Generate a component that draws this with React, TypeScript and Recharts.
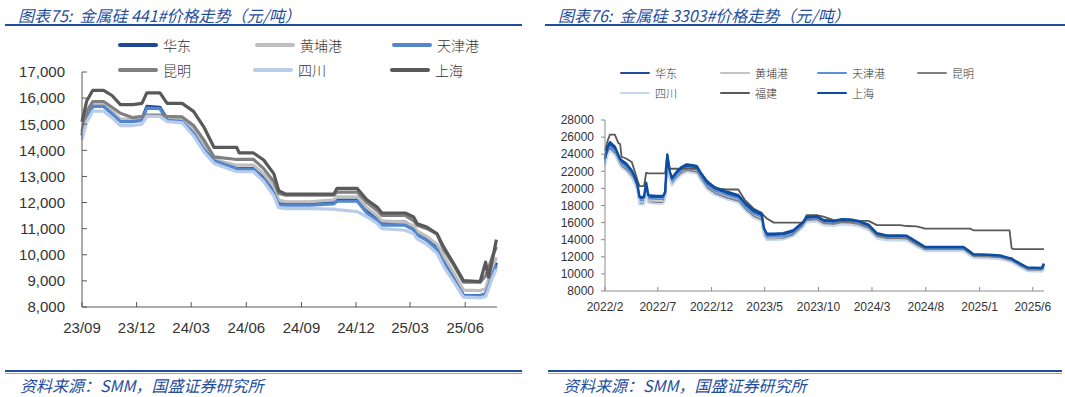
import React from "react";
import { LineChart, Line, XAxis, YAxis } from "recharts";

// ---------- 图表75: 金属硅 441# ----------
const leftDates = [
  "2023-09-01", "2023-09-09", "2023-09-19", "2023-10-07", "2023-10-21", "2023-11-04", "2023-11-25", "2023-12-10", "2023-12-18", "2024-01-09",
  "2024-01-21", "2024-02-15", "2024-03-05", "2024-03-22", "2024-04-08", "2024-05-16", "2024-05-20", "2024-06-13", "2024-06-30", "2024-07-17",
  "2024-07-25", "2024-08-06", "2024-09-15", "2024-10-25", "2024-10-30", "2024-12-03", "2024-12-19", "2025-01-05", "2025-01-13", "2025-02-21",
  "2025-03-07", "2025-03-13", "2025-03-29", "2025-04-15", "2025-04-26", "2025-05-13", "2025-05-29", "2025-06-26", "2025-07-05", "2025-07-10",
  "2025-07-16", "2025-07-23",
];
const leftEnd = "2025-07-24";
const leftTickLabels = ["23/09", "23/12", "24/03", "24/06", "24/09", "24/12", "25/03", "25/06"];
const leftYTicks = [8000, 9000, 10000, 11000, 12000, 13000, 14000, 15000, 16000, 17000];

const huadong441 = [14600, 15300, 15700, 15700, 15450, 15150, 15150, 15200, 15680, 15650, 15200, 15150, 14700, 14100, 13650, 13300, 13300, 13300, 12950, 12400, 11950, 11940, 11940, 12000, 12090, 12090, 11700, 11450, 11250, 11250, 11050, 10850, 10650, 10300, 9800, 9150, 8450, 8440, 8500, 8900, 9300, 9700];
const huangpu441 = [14700, 15400, 15750, 15750, 15500, 15200, 15200, 15200, 15300, 15300, 15250, 15200, 14800, 14200, 13650, 13430, 13430, 13430, 13100, 12600, 12100, 12030, 12030, 12100, 12220, 12220, 11800, 11500, 11300, 11250, 11100, 10900, 10700, 10400, 9950, 9300, 8650, 8630, 8700, 9100, 9500, 9900];
const tianjin441 = [14550, 15250, 15680, 15680, 15400, 15100, 15100, 15150, 15620, 15600, 15150, 15100, 14650, 14050, 13600, 13300, 13280, 13280, 12900, 12350, 11900, 11900, 11900, 11950, 12050, 12050, 11600, 11320, 11130, 11130, 10950, 10750, 10550, 10200, 9700, 9050, 8440, 8430, 8500, 8800, 9200, 9600];
const kunming441 = [14720, 15500, 15870, 15870, 15650, 15420, 15250, 15300, 15350, 15350, 15300, 15280, 14950, 14400, 13750, 13650, 13650, 13650, 13300, 12800, 12350, 12280, 12280, 12280, 12400, 12400, 12000, 11700, 11510, 11510, 11300, 11130, 11000, 10800, 10200, 9600, 8950, 8950, 9200, 9500, 9910, 10300];
const sichuan441 = [14400, 15100, 15500, 15500, 15250, 14950, 14950, 15000, 15300, 15300, 15100, 15050, 14550, 13950, 13500, 13180, 13180, 13180, 12800, 12250, 11800, 11770, 11770, 11750, 11730, 11650, 11450, 11200, 11000, 10940, 10800, 10600, 10400, 10050, 9550, 8950, 8380, 8350, 8400, 8700, 9100, 9450];
const shanghai441 = [15100, 15900, 16300, 16300, 16100, 15750, 15750, 15800, 16200, 16200, 15800, 15800, 15490, 14900, 14115, 14115, 13900, 13900, 13630, 13100, 12450, 12320, 12320, 12320, 12540, 12540, 12110, 11830, 11600, 11600, 11450, 11190, 11060, 10800, 10300, 9650, 9010, 8975, 9720, 9140, 9780, 10580];

// ---------- 图表76: 金属硅 3303# ----------
const rightDates = [
  "2022-02-01", "2022-02-08", "2022-02-15", "2022-03-01", "2022-03-11", "2022-03-16", "2022-03-20", "2022-04-02", "2022-04-18", "2022-04-27",
  "2022-05-04", "2022-05-10", "2022-05-23", "2022-05-29", "2022-06-04", "2022-06-26", "2022-07-17", "2022-07-22", "2022-07-28", "2022-08-04",
  "2022-08-10", "2022-08-24", "2022-09-07", "2022-09-21", "2022-10-09", "2022-10-20", "2022-10-29", "2022-11-17", "2022-12-11", "2023-01-13",
  "2023-02-15", "2023-03-06", "2023-03-30", "2023-04-22", "2023-04-29", "2023-05-07", "2023-05-27", "2023-06-23", "2023-07-22", "2023-08-19",
  "2023-08-28", "2023-09-26", "2023-10-15", "2023-11-13", "2023-12-06", "2023-12-30", "2024-01-22", "2024-02-20", "2024-03-15", "2024-04-12",
  "2024-05-20", "2024-06-08", "2024-07-06", "2024-07-30", "2024-09-18", "2024-11-16", "2024-12-05", "2024-12-14", "2025-01-26", "2025-02-28",
  "2025-03-27", "2025-04-02", "2025-04-07", "2025-04-26", "2025-05-17", "2025-06-27", "2025-07-03",
];
const rightEnd = "2025-07-03";
const rightTickLabels = ["2022/2", "2022/7", "2022/12", "2023/5", "2023/10", "2024/3", "2024/8", "2025/1", "2025/6"];
const rightYTicks = [8000, 10000, 12000, 14000, 16000, 18000, 20000, 22000, 24000, 26000, 28000];

const huadong3303 = [23300, 24500, 25100, 24600, 23700, 23300, 23100, 22700, 21900, 21100, 20300, 18800, 18800, 20400, 19000, 18950, 18950, 19400, 23700, 21800, 21000, 21750, 22300, 22600, 22500, 22400, 21750, 20600, 19900, 19400, 19000, 18100, 17250, 16850, 15100, 14550, 14550, 14600, 14950, 15950, 16500, 16600, 16150, 16050, 16250, 16200, 16050, 15600, 14600, 14350, 14350, 14300, 13600, 13000, 13000, 13000, 12450, 12200, 12150, 12050, 11750, 11700, 11550, 11100, 10650, 10600, 11000];
const huangpu3303 = [23000, 24100, 24700, 24200, 23300, 22900, 22700, 22300, 21500, 20700, 19900, 18400, 18400, 19900, 18600, 18500, 18500, 19000, 23200, 21400, 20600, 21350, 21900, 22200, 22100, 22000, 21350, 20200, 19500, 19000, 18600, 17700, 16850, 16450, 14700, 14200, 14200, 14250, 14600, 15650, 16200, 16300, 15850, 15750, 15950, 15900, 15750, 15300, 14300, 14050, 14050, 14000, 13300, 12800, 12800, 12800, 12250, 12000, 11950, 11850, 11550, 11500, 11350, 10900, 10450, 10400, 10700];
const tianjin3303 = [23200, 24300, 24900, 24400, 23500, 23100, 22900, 22500, 21700, 20900, 20100, 18600, 18600, 20200, 18800, 18750, 18750, 19200, 23500, 21600, 20800, 21550, 22100, 22400, 22300, 22200, 21550, 20400, 19700, 19200, 18800, 17900, 17050, 16650, 14900, 14350, 14350, 14400, 14750, 15800, 16350, 16450, 16000, 15900, 16100, 16050, 15900, 15450, 14450, 14200, 14200, 14150, 13450, 12900, 12900, 12900, 12350, 12100, 12050, 11950, 11650, 11600, 11450, 11000, 10550, 10500, 10900];
const kunming3303 = [22800, 24000, 24600, 24100, 23200, 22800, 22600, 22200, 21300, 20500, 19700, 18200, 18200, 19700, 18400, 18300, 18300, 18800, 23100, 21200, 20400, 21200, 21800, 22100, 22000, 21900, 21200, 20100, 19400, 18900, 18500, 17600, 16750, 16300, 14500, 14000, 14000, 14100, 14600, 15700, 16300, 16400, 15950, 15850, 16050, 16000, 15850, 15400, 14450, 14200, 14200, 14150, 13450, 12850, 12850, 12850, 12300, 12050, 12000, 11900, 11550, 11450, 11300, 10850, 10400, 10350, 10600];
const sichuan3303 = [22600, 23800, 24400, 23900, 23000, 22600, 22400, 22000, 21200, 20400, 19600, 18100, 18100, 19600, 18300, 18200, 18200, 18700, 22900, 21100, 20300, 21050, 21600, 21900, 21800, 21700, 21050, 19900, 19200, 18700, 18300, 17400, 16550, 16150, 14400, 13950, 13950, 14000, 14400, 15450, 16000, 16100, 15650, 15550, 15750, 15700, 15550, 15100, 14100, 13900, 13900, 13850, 13150, 12650, 12650, 12650, 12100, 11850, 11800, 11700, 11400, 11350, 11200, 10750, 10300, 10250, 10500];
const fujian3303 = [24400, 25500, 26300, 26300, 25300, 25200, 23700, 23500, 23100, 21950, 21000, 20270, 20270, 21830, 21750, 21750, 21750, 21750, 24000, 22300, 22300, 22300, 22300, 22350, 22300, 22300, 21900, 20970, 19990, 19870, 19870, 18625, 17650, 17140, 16800, 16480, 16000, 16000, 16000, 16000, 16870, 16870, 16700, 16280, 16200, 16200, 16200, 16200, 15700, 15700, 15700, 15600, 15550, 15300, 15300, 15300, 15300, 15100, 15100, 15100, 15100, 13000, 12900, 12900, 12900, 12900, 12900];
const shanghai3303 = [23500, 24800, 25400, 24870, 23900, 23500, 23300, 22900, 22100, 21300, 20500, 19000, 19000, 20650, 19200, 19100, 19100, 19600, 23900, 22000, 21200, 21950, 22500, 22800, 22700, 22600, 21950, 20800, 20100, 19600, 19200, 18300, 17450, 17060, 15300, 14720, 14700, 14750, 15100, 16100, 16650, 16750, 16300, 16200, 16400, 16350, 16200, 15750, 14750, 14500, 14500, 14450, 13750, 13150, 13150, 13150, 12600, 12300, 12250, 12150, 11850, 11800, 11650, 11200, 10750, 10700, 11200];

const DAY = 86400000;
const dayOf = (d: string, base: string) => Math.round((Date.parse(d) - Date.parse(base)) / DAY);

type Series = { key: string; name: string; values: number[]; color: string; width: number };

const leftSeries: Series[] = [
  { key: "hd", name: "华东", values: huadong441, color: "#1F4796", width: 3.2 },
  { key: "hp", name: "黄埔港", values: huangpu441, color: "#BFBFBF", width: 3.2 },
  { key: "tj", name: "天津港", values: tianjin441, color: "#5486CF", width: 3.2 },
  { key: "km", name: "昆明", values: kunming441, color: "#808080", width: 3.2 },
  { key: "sc", name: "四川", values: sichuan441, color: "#B9CDEA", width: 3.2 },
  { key: "sh", name: "上海", values: shanghai441, color: "#595959", width: 3.2 },
];

const rightSeries: Series[] = [
  { key: "hd", name: "华东", values: huadong3303, color: "#1F4E9C", width: 1.8 },
  { key: "hp", name: "黄埔港", values: huangpu3303, color: "#C3C3C3", width: 1.8 },
  { key: "tj", name: "天津港", values: tianjin3303, color: "#5B8FD8", width: 1.8 },
  { key: "km", name: "昆明", values: kunming3303, color: "#7F7F7F", width: 1.8 },
  { key: "sc", name: "四川", values: sichuan3303, color: "#C5D9F1", width: 1.8 },
  { key: "fj", name: "福建", values: fujian3303, color: "#595959", width: 1.8 },
  { key: "sh", name: "上海", values: shanghai3303, color: "#0B4DA2", width: 2.5 },
];

function buildRows(dates: string[], base: string, series: Series[]) {
  return dates.map((d, i) => {
    const row: Record<string, number> = { t: dayOf(d, base) };
    series.forEach((s) => (row[s.key] = s.values[i]));
    return row;
  });
}

const leftRows = buildRows(leftDates, leftDates[0], leftSeries);
const rightRows = buildRows(rightDates, rightDates[0], rightSeries);

// "23/09" -> 2023-09-01 ; "2022/7" -> 2022-07-01
const leftTicks = leftTickLabels.map((l) => {
  const [y, m] = l.split("/");
  return dayOf(`20${y}-${m}-01`, leftDates[0]);
});
const rightTicks = rightTickLabels.map((l) => {
  const [y, m] = l.split("/");
  return dayOf(`${y}-${m.padStart(2, "0")}-01`, rightDates[0]);
});

const BLUE = "#1F4E9C";
const CJK = "'Noto Sans CJK SC', 'Noto Sans', sans-serif";
const NUM = "'Liberation Sans', Arial, sans-serif";

function LegendItem({ x, y, color, label, lineW, thick, size }: { x: number; y: number; color: string; label: string; lineW: number; thick: number; size: number }) {
  return (
    <div style={{ position: "absolute", left: x, top: y - 10, height: 20, display: "flex", alignItems: "center" }}>
      <div style={{ width: lineW, height: thick, background: color, borderRadius: thick / 2 }} />
      <span style={{ marginLeft: 5, fontSize: size, fontFamily: CJK, color: "#333", fontWeight: 300 }}>{label}</span>
    </div>
  );
}

function Header({ x, w, text }: { x: number; w: number; text: string }) {
  return (
    <>
      <div style={{ position: "absolute", left: x + 13, top: 3, fontSize: 16, fontStyle: "italic", color: BLUE, fontFamily: CJK, whiteSpace: "pre" }}>{text}</div>
      <div style={{ position: "absolute", left: x, top: 24, width: w, height: 2, background: BLUE }} />
    </>
  );
}

function Footer({ x, w }: { x: number; w: number }) {
  return (
    <>
      <div style={{ position: "absolute", left: x, top: 370, width: w, height: 2, background: BLUE }} />
      <div style={{ position: "absolute", left: x, top: 373, width: w, height: 1, background: "#8AA6D6" }} />
      <div style={{ position: "absolute", left: x + 15, top: 373, fontSize: 16, fontStyle: "italic", color: BLUE, fontFamily: CJK, whiteSpace: "nowrap" }}>资料来源：SMM，国盛证券研究所</div>
    </>
  );
}

export default function App() {
  const leftLegendPos = [
    [118, 45], [255, 45], [392, 45],
    [118, 70], [253, 70], [390, 70],
  ];
  const rightLegendPos = [
    [620, 73], [720, 73], [817, 73], [917, 73],
    [620, 93], [720, 93], [817, 93],
  ];
  return (
    <div style={{ position: "absolute", left: 0, top: 0, width: 1065, height: 397, background: "#fff", overflow: "hidden" }}>
      <Header x={5} w={517} text="图表75:  金属硅 441#价格走势（元/吨）" />
      <Header x={545} w={520} text="图表76:  金属硅 3303#价格走势（元/吨）" />

      <div style={{ position: "absolute", left: 0, top: 0 }}>
        <LineChart width={520} height={397} data={leftRows} margin={{ top: 72, right: 23, bottom: 60, left: 12 }}>
          <XAxis
            dataKey="t"
            type="number"
            domain={[0, dayOf(leftEnd, leftDates[0])]}
            ticks={leftTicks}
            tickFormatter={(v: number) => leftTickLabels[leftTicks.indexOf(v)] ?? ""}
            height={30}
            stroke="#595959"
            tickSize={-5}
            tickMargin={20}
            tick={{ fill: "#333", fontSize: 15, fontFamily: NUM }}
            interval={0}
          />
          <YAxis
            domain={[8000, 17000]}
            ticks={leftYTicks}
            width={70}
            stroke="#595959"
            tickSize={-5}
            tickMargin={22}
            tickFormatter={(v: number) => v.toLocaleString("en-US")}
            tick={{ fill: "#333", fontSize: 15, fontFamily: NUM }}
            interval={0}
          />
          {leftSeries.map((s) => (
            <Line key={s.key} dataKey={s.key} name={s.name} stroke={s.color} strokeWidth={s.width} dot={false} activeDot={false} isAnimationActive={false} strokeLinejoin="round" />
          ))}
        </LineChart>
      </div>

      <div style={{ position: "absolute", left: 530, top: 0 }}>
        <LineChart width={535} height={397} data={rightRows} margin={{ top: 120, right: 21, bottom: 81, left: 15 }}>
          <XAxis
            dataKey="t"
            type="number"
            domain={[0, dayOf(rightEnd, rightDates[0])]}
            ticks={rightTicks}
            tickFormatter={(v: number) => rightTickLabels[rightTicks.indexOf(v)] ?? ""}
            height={25}
            stroke="#8C8C8C"
            tickSize={-4}
            tickMargin={15}
            tick={{ fill: "#333", fontSize: 12, fontFamily: NUM }}
            interval={0}
          />
          <YAxis
            domain={[8000, 28000]}
            ticks={rightYTicks}
            width={60}
            stroke="#8C8C8C"
            tickSize={4}
            tickMargin={7}
            tick={{ fill: "#333", fontSize: 12, fontFamily: NUM }}
            interval={0}
          />
          {rightSeries.map((s) => (
            <Line key={s.key} dataKey={s.key} name={s.name} stroke={s.color} strokeWidth={s.width} dot={false} activeDot={false} isAnimationActive={false} strokeLinejoin="round" />
          ))}
        </LineChart>
      </div>

      {leftSeries.map((s, i) => (
        <LegendItem key={"l" + s.key} x={leftLegendPos[i][0]} y={leftLegendPos[i][1]} color={s.color} label={s.name} lineW={40} thick={4} size={14} />
      ))}
      {rightSeries.map((s, i) => (
        <LegendItem key={"r" + s.key} x={rightLegendPos[i][0]} y={rightLegendPos[i][1]} color={s.color} label={s.name} lineW={30} thick={2} size={11} />
      ))}

      <Footer x={5} w={517} />
      <Footer x={548} w={514} />
    </div>
  );
}
